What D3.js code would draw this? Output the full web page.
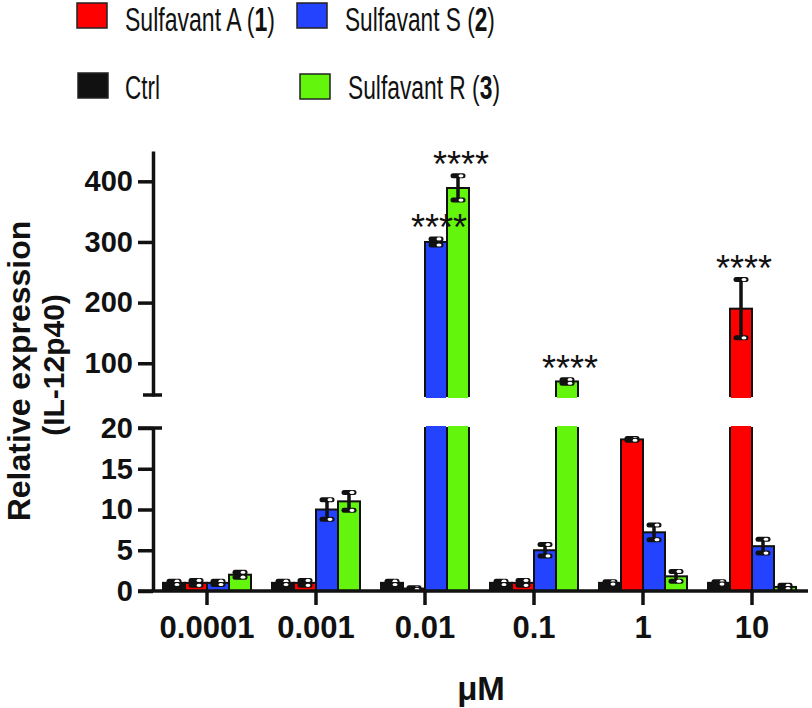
<!DOCTYPE html>
<html>
<head>
<meta charset="utf-8">
<script src="https://d3js.org/d3.v7.min.js"></script>
<style>
body { margin: 0; background: #fff; }
svg { font-family: "Liberation Sans", Arial, sans-serif; }
</style>
</head>
<body>
<script>
// data
var doses = ["0.0001", "0.001", "0.01", "0.1", "1", "10"];
var seriesNames = ["Ctrl", "Sulfavant A", "Sulfavant S", "Sulfavant R"];
var ctrlVals = [1.0, 1.0, 1.0, 1.0, 1.0, 1.0];
var sulfAVals = [1.0, 1.0, 0.3, 1.0, 18.6, 190];
var sulfSVals = [1.0, 10.0, 300, 5.0, 7.2, 5.5];
var sulfRVals = [2.0, 11.0, 389, 70, 1.8, 0.5];
var ctrlErr = [0.2, 0.2, 0.2, 0.2, 0.15, 0.15];
var sulfAErr = [0.3, 0.3, 0.1, 0.3, 0.1, 48];
var sulfSErr = [0.2, 1.2, 5, 0.7, 0.9, 0.85];
var sulfRErr = [0.3, 1.1, 20, 3, 0.6, 0.2];
// which bars carry "****"
var starred = [[2, 2], [3, 2], [3, 3], [1, 5]]; // [series, dose]
var lowTicks = [0, 5, 10, 15, 20];
var highTicks = [100, 200, 300, 400];
var colors = ["#111111", "#ff0000", "#2443ff", "#63f50c"];

var allVals = [ctrlVals, sulfAVals, sulfSVals, sulfRVals];
var allErr = [ctrlErr, sulfAErr, sulfSErr, sulfRErr];

var W = 812, H = 708;
var svg = d3.select("body").append("svg")
  .attr("width", W)
  .attr("height", H);

var x = d3.scaleBand().domain(doses).range([152.5, 806.5]);
var xs = d3.scaleBand().domain(d3.range(4)).range([-44, 44]);
var yLow = d3.scaleLinear().domain([0, 20]).range([591, 428]);
var yHigh = d3.scaleLinear().domain([46, 450]).range([396, 151]);

var bars = [];
allVals.forEach(function(vals, s) {
  vals.forEach(function(v, i) {
    bars.push({s: s, i: i, v: v, e: allErr[s][i]});
  });
});

var g = svg.append("g");

// lower panel bars (clipped at 20)
g.selectAll("rect.low").data(bars).enter().append("rect")
  .attr("class", "low")
  .attr("x", function(d) { return x(doses[d.i]) + x.bandwidth() / 2 + xs(d.s); })
  .attr("width", xs.bandwidth())
  .attr("y", function(d) { return yLow(Math.min(d.v, 20)); })
  .attr("height", function(d) { return yLow(0) - yLow(Math.min(d.v, 20)); })
  .attr("fill", function(d) { return colors[d.s]; })
  .attr("stroke", "#111")
  .attr("stroke-width", 2);

// upper panel bars
var big = bars.filter(function(d) { return d.v > 20; });
g.selectAll("rect.high").data(big).enter().append("rect")
  .attr("class", "high")
  .attr("x", function(d) { return x(doses[d.i]) + x.bandwidth() / 2 + xs(d.s); })
  .attr("width", xs.bandwidth())
  .attr("y", function(d) { return yHigh(d.v); })
  .attr("height", function(d) { return yHigh(46) - yHigh(d.v); })
  .attr("fill", function(d) { return colors[d.s]; })
  .attr("stroke", "#111")
  .attr("stroke-width", 2);

// cover the stroke at the cut ends
g.selectAll("rect.cut").data(big).enter().append("rect")
  .attr("x", function(d) { return x(doses[d.i]) + x.bandwidth() / 2 + xs(d.s) + 1; })
  .attr("width", xs.bandwidth() - 2)
  .attr("y", yHigh(46) - 2)
  .attr("height", 4)
  .attr("fill", function(d) { return colors[d.s]; });
g.selectAll("rect.cut2").data(big).enter().append("rect")
  .attr("x", function(d) { return x(doses[d.i]) + x.bandwidth() / 2 + xs(d.s) + 1; })
  .attr("width", xs.bandwidth() - 2)
  .attr("y", yLow(20) - 2)
  .attr("height", 4)
  .attr("fill", function(d) { return colors[d.s]; });

function yOf(v) { return v > 20 ? yHigh(v) : yLow(v); }
function cx(d) { return x(doses[d.i]) + x.bandwidth() / 2 + xs(d.s) + xs.bandwidth() / 2; }

// error bars
var eb = g.selectAll("g.err").data(bars).enter().append("g");
eb.append("line")
  .attr("x1", cx).attr("x2", cx)
  .attr("y1", function(d) { return yOf(d.v + d.e); })
  .attr("y2", function(d) { return yOf(Math.max(d.v - d.e, 0)); })
  .attr("stroke", "#111").attr("stroke-width", 3.5);
[1, -1].forEach(function(sign) {
  eb.append("line")
    .attr("x1", function(d) { return cx(d) - 5; })
    .attr("x2", function(d) { return cx(d) + 5; })
    .attr("y1", function(d) { return yOf(Math.max(d.v + sign * d.e, 0)); })
    .attr("y2", function(d) { return yOf(Math.max(d.v + sign * d.e, 0)); })
    .attr("stroke", "#111").attr("stroke-width", 5).attr("stroke-linecap", "round");
  eb.append("ellipse")
    .attr("cx", function(d) { return cx(d) + 3; })
    .attr("cy", function(d) { return yOf(Math.max(d.v + sign * d.e, 0)); })
    .attr("rx", 2.5).attr("ry", 1.6)
    .attr("fill", "#fff");
});

// significance stars
g.selectAll("text.star").data(starred).enter().append("text")
  .attr("x", function(d) { return cx({s: d[0], i: d[1]}) + 3; })
  .attr("y", function(d) { return yOf(allVals[d[0]][d[1]] + allErr[d[0]][d[1]]) + 1; })
  .attr("text-anchor", "middle")
  .attr("font-size", 36)
  .attr("fill", "#111")
  .text("****");

// y axes
var axLow = svg.append("g")
  .attr("transform", "translate(153,0)")
  .call(d3.axisLeft(yLow).tickValues(lowTicks).tickSize(15).tickSizeOuter(0).tickPadding(5));
var axHigh = svg.append("g")
  .attr("transform", "translate(153,0)")
  .call(d3.axisLeft(yHigh).tickValues(highTicks).tickSize(15).tickSizeOuter(0).tickPadding(5));
[axLow, axHigh].forEach(function(a) {
  a.selectAll("path.domain").attr("stroke", "#111").attr("stroke-width", 3.5);
  a.selectAll(".tick line").attr("stroke", "#111").attr("stroke-width", 3.5);
  a.selectAll(".tick text")
    .attr("font-size", 29).attr("font-weight", "bold")
    .attr("font-family", "Liberation Sans, Arial, sans-serif")
    .attr("fill", "#111");
});
// break caps
svg.append("line").attr("x1", 143).attr("x2", 162)
  .attr("y1", yHigh(46) - 1).attr("y2", yHigh(46) - 1)
  .attr("stroke", "#111").attr("stroke-width", 3.5);
svg.append("line").attr("x1", 138).attr("x2", 162)
  .attr("y1", yLow(20)).attr("y2", yLow(20))
  .attr("stroke", "#111").attr("stroke-width", 3.5);

// x axis
var axX = svg.append("g")
  .attr("transform", "translate(0," + yLow(0) + ")")
  .call(d3.axisBottom(x).tickSize(14).tickSizeOuter(0).tickPadding(11));
axX.select("path.domain").remove();
axX.selectAll(".tick line").attr("stroke", "#111").attr("stroke-width", 3.5);
axX.selectAll(".tick text")
  .attr("font-size", 31).attr("font-weight", "bold")
  .attr("font-family", "Liberation Sans, Arial, sans-serif")
  .attr("fill", "#111");
svg.append("line").attr("x1", 138).attr("x2", 808)
  .attr("y1", yLow(0)).attr("y2", yLow(0))
  .attr("stroke", "#111").attr("stroke-width", 3.5);

// axis titles
svg.append("text")
  .attr("transform", "translate(30,371) rotate(-90)")
  .attr("text-anchor", "middle")
  .attr("font-size", 32).attr("font-weight", "bold")
  .attr("fill", "#111")
  .text("Relative expression");
svg.append("text")
  .attr("transform", "translate(64,365) rotate(-90)")
  .attr("text-anchor", "middle")
  .attr("font-size", 30).attr("font-weight", "bold")
  .attr("fill", "#111")
  .text("(IL-12p40)");
svg.append("text")
  .attr("x", 481).attr("y", 700)
  .attr("text-anchor", "middle")
  .attr("font-size", 33).attr("font-weight", "bold")
  .attr("fill", "#111")
  .text("\u03bcM");

// legend
var legend = [
  {s: 1, name: "Sulfavant A (", num: "1", rx: 77, ry: 3, tx: 125, ty: 31, tw: 150},
  {s: 2, name: "Sulfavant S (", num: "2", rx: 297, ry: 3, tx: 345, ty: 31, tw: 150},
  {s: 0, name: "Ctrl", num: null, rx: 78, ry: 73, tx: 125, ty: 99, tw: 35},
  {s: 3, name: "Sulfavant R (", num: "3", rx: 300, ry: 74, tx: 348, ty: 99, tw: 152}
];
legend.forEach(function(l) {
  svg.append("rect")
    .attr("x", l.rx).attr("y", l.ry)
    .attr("width", 30).attr("height", 25)
    .attr("fill", colors[l.s])
    .attr("stroke", "#222").attr("stroke-width", 1.5);
  var t = svg.append("text")
    .attr("font-size", 34)
    .attr("fill", "#111");
  t.append("tspan").text(l.name);
  if (l.num) {
    t.append("tspan").attr("font-weight", "bold").text(l.num);
    t.append("tspan").text(")");
  }
  var w = t.node().getComputedTextLength();
  t.attr("transform", "translate(" + l.tx + "," + l.ty + ") scale(" + (l.tw / w) + ",1)");
});
</script>
</body>
</html>
